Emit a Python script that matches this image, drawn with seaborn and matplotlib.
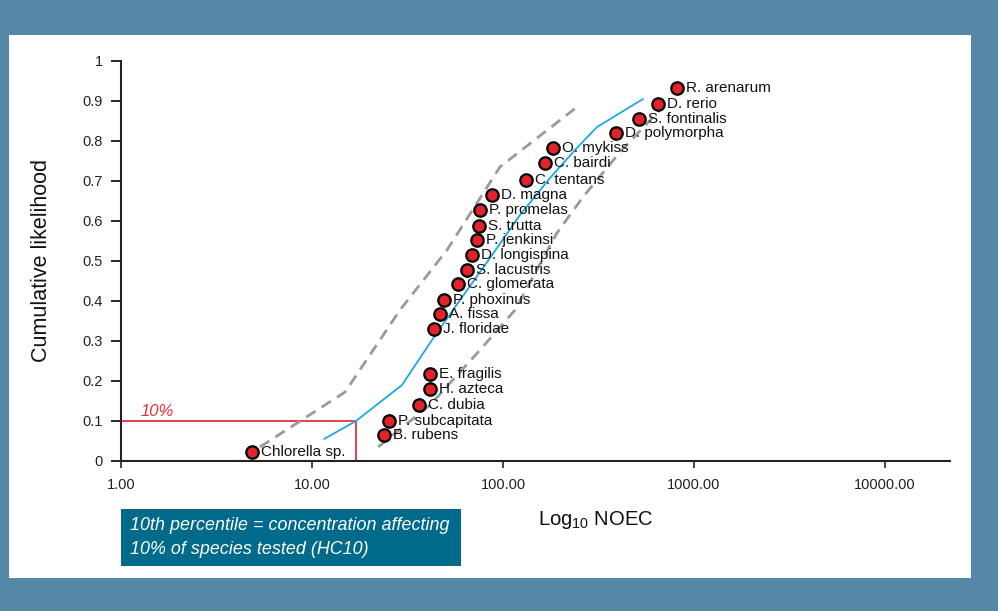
import numpy as np
import pandas as pd
import matplotlib
matplotlib.use("Agg")
import matplotlib.pyplot as plt
import seaborn as sns
from matplotlib.patches import Rectangle

# ── Data ─────────────────────────────────────────────────────────────────────
species = [
    "Chlorella sp.", "B. rubens", "P. subcapitata", "C. dubia", "H. azteca",
    "E. fragilis", "J. floridae", "A. fissa", "P. phoxinus", "C. glomerata",
    "S. lacustris", "D. longispina", "P. jenkinsi", "S. trutta", "P. promelas",
    "D. magna", "C. tentans", "C. bairdi", "O. mykiss", "D. polymorpha",
    "S. fontinalis", "D. rerio", "R. arenarum",
]
noec = [4.85, 23.8, 25.3, 36.3, 41.5, 41.5, 43.5, 46.8, 49.1, 58.1,
        64.8, 68.8, 73.1, 74.9, 75.8, 87.6, 132, 166, 183, 391,
        515, 648, 815]
cum_prob = [0.0225, 0.065, 0.10, 0.14, 0.18, 0.2175, 0.33, 0.3675, 0.4025, 0.4425,
            0.4775, 0.515, 0.5525, 0.5875, 0.6275, 0.665, 0.7025, 0.745, 0.7825, 0.82,
            0.855, 0.8925, 0.9325]

fit_x = [11.56, 17.0, 29.6, 42.5, 59.6, 85.5, 122.7, 176.2, 238.2, 310.6, 540.8]
fit_y = [0.055, 0.10, 0.19, 0.3025, 0.4025, 0.5075, 0.615, 0.7075, 0.7775, 0.835, 0.905]

lower_x = [5.34, 14.9, 28.9, 50.9, 96.4, 244]
lower_y = [0.035, 0.1725, 0.3775, 0.5275, 0.735, 0.885]

upper_x = [22.2, 41.5, 75.8, 115.6, 191.7, 262.3, 409.9, 663.7]
upper_y = [0.035, 0.14, 0.2775, 0.3775, 0.57, 0.66, 0.7725, 0.8775]

hc10 = 16.9
x_ticks = [1, 10, 100, 1000, 10000]
x_tick_labels = ["1.00", "10.00", "100.00", "1000.00", "10000.00"]
y_ticks = [0, 0.1, 0.2, 0.3, 0.4, 0.5, 0.6, 0.7, 0.8, 0.9, 1]
y_tick_labels = ["0", "0.1", "0.2", "0.3", "0.4", "0.5", "0.6", "0.7", "0.8", "0.9", "1"]

df = pd.DataFrame({"species": species, "noec": noec, "cum": cum_prob})

# ── Style ────────────────────────────────────────────────────────────────────
sns.set_style("ticks")
plt.rcParams["font.family"] = ["Liberation Sans", "DejaVu Sans"]
plt.rcParams["mathtext.default"] = "regular"

BORDER = "#5588a6"
fig = plt.figure(figsize=(9.98, 6.11), dpi=100, facecolor=BORDER)

# white panel as a background axes
bg = fig.add_axes([9 / 998, 33 / 611, 962 / 998, 543 / 611])
bg.set_facecolor("white")
bg.set_xticks([]); bg.set_yticks([])
for s in bg.spines.values():
    s.set_visible(False)
bg.set_zorder(0)
bg.add_patch(Rectangle((112 / 962, 12 / 543), 340 / 962, 57 / 543,
                       transform=bg.transAxes, facecolor="#006a8a", edgecolor="none"))
bg.text(121 / 962, (576 - 523) / 543, "10th percentile = concentration affecting",
        transform=bg.transAxes, color="white", style="italic", fontsize=12.9,
        va="center", ha="left")
bg.text(121 / 962, (576 - 547) / 543, "10% of species tested (HC10)",
        transform=bg.transAxes, color="white", style="italic", fontsize=12.9,
        va="center", ha="left")

ax = fig.add_axes([121 / 998, 150 / 611, 829 / 998, 400 / 611])
ax.set_zorder(2)
ax.set_facecolor("none")
ax.set_xscale("log")
ax.set_xlim(1, 21900)
ax.set_ylim(0, 1)

# HC10 guide lines
ax.plot([1, hc10], [0.1, 0.1], color="#e8313b", lw=1.3, zorder=2)
ax.plot([hc10, hc10], [0, 0.1], color="#e8313b", lw=1.3, zorder=2)
ax.text(1.26, 0.106, "10%", color="#e8313b", style="italic", fontsize=12,
        va="bottom", ha="left")

# fitted curve + bounds
sns.lineplot(x=lower_x, y=lower_y, ax=ax, sort=False, color="#9a9a9a",
             lw=2, zorder=2)
ax.lines[-1].set_dashes((4, 2.6))
sns.lineplot(x=upper_x, y=upper_y, ax=ax, sort=False, color="#9a9a9a",
             lw=2, zorder=2)
ax.lines[-1].set_dashes((4, 2.6))
sns.lineplot(x=fit_x, y=fit_y, ax=ax, sort=False, color="#1aa9e6", lw=1.3, zorder=3)

# species points
sns.scatterplot(data=df, x="noec", y="cum", ax=ax, s=80, color="#e3232b",
                edgecolor="black", linewidth=1.6, zorder=4, clip_on=False)
for sp, xv, yv in zip(species, noec, cum_prob):
    ax.annotate(sp, (xv, yv), xytext=(6.5, 0), textcoords="offset points",
                va="center", ha="left", fontsize=11, color="#111111", zorder=5)

# axes cosmetics
ax.set_xticks(x_ticks)
ax.set_xticklabels(x_tick_labels)
ax.set_yticks(y_ticks)
ax.set_yticklabels(y_tick_labels)
ax.xaxis.set_minor_locator(matplotlib.ticker.NullLocator())
ax.tick_params(axis="y", length=7, width=1.4, labelsize=10.5, pad=6,
               labelcolor="#222222")
ax.tick_params(axis="x", length=5, width=1.2, labelsize=10.5, pad=7,
               labelcolor="#222222")
sns.despine(ax=ax)
for s in ("left", "bottom"):
    ax.spines[s].set_linewidth(1.5)
    ax.spines[s].set_color("#222222")

ax.set_ylabel("Cumulative likelihood", fontsize=15.5, color="#111111")
ax.yaxis.set_label_coords(-0.083, 0.5)
ax.set_xlabel("Log$_{10}$ NOEC", fontsize=14.6, color="#111111")
ax.xaxis.set_label_coords(0.573, -0.12)

fig.savefig("out.png", dpi=100, facecolor=BORDER)
